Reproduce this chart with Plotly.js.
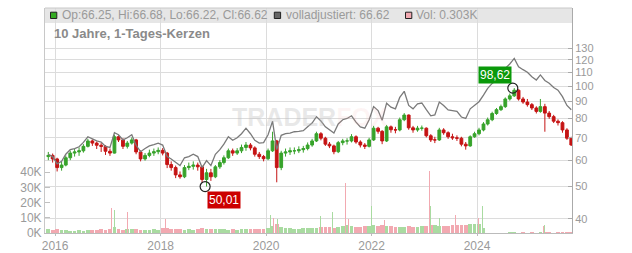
<!DOCTYPE html>
<html>
<head>
<meta charset="utf-8">
<script src="https://cdn.plot.ly/plotly-3.0.1.min.js"></script>
<style>
  html, body { margin: 0; padding: 0; background: #fff; }
  #chart { width: 632px; height: 253px; }
</style>
</head>
<body>
<div id="chart"></div>
<script>
// ---- Data (monthly candles) ----
const firstMonth = '2015-11';
const open = [61.5,62,
  60.5,57,58,61,63,63.5,64,66,68.5,67.5,66.5,66,
  63.8,63,70.5,69,66,67.5,69,63.5,60.5,62,63,63.6,
  64.2,63,58.2,57,54.2,53.5,57,57.5,58,57.3,52.5,55,
  53.5,57.3,59,61,64,63,64,65.5,66.6,65.3,62.5,61.5,
  60.6,64,68.5,57,63,63.5,64,64,64.5,65,66.6,68.5,
  72,69.8,67,66.2,63.6,67.7,68.5,68.5,70.5,68,66.6,66,
  69,74.8,73.2,68.5,75.5,74,73.9,79.3,81.9,75,73.9,74.8,
  74.8,71,69,69,73.9,72.5,70.5,70,69.8,67,66.2,70.5,
  72,73.9,77,79.3,82.8,85,86.8,91.5,93.5,97.2,91.5,89.6,
  88,86,84,86.8,83,81,78.5,77.7,73.9,69.8];
const high = [63.5,62.8,
  61,59.5,62,64,64.8,65.5,67,69.5,69.2,68.2,67.5,66.5,
  65,71.5,71.2,69.8,68.5,70.2,69.5,64.2,63,64.5,65,65.5,
  65.2,63.5,59.5,57.8,55.5,58,59,59.5,59,57.8,56.5,56.5,
  58,60,62,65,65,65.2,66.8,68,67.5,66,63.5,62.2,
  65,73,69,64,65,65.5,65.5,66,66.2,67.8,69.5,73,
  72.8,70.5,68,66.8,68.5,69.5,69.8,71.8,71.2,68.8,67.5,70,
  76,75.5,73.8,76.5,76.2,75.5,80.5,83,82.2,76,76,76.2,
  75.2,71.8,70.5,75,74.8,73.2,72,71.2,70.5,68,71.2,73,
  75,78,80.5,83.8,86,88,92.5,95,98.62,97.8,92.8,91.5,
  89,87,91.5,88.5,84.2,82,79.5,78.5,74.8,70.5];
const low = [60,59,
  55.5,55.8,57.5,60,61.5,61.8,63.2,65.5,66.2,64.8,63.5,62.2,
  61.8,62.8,68,64.8,65,66.8,62.5,59.5,59.8,61.2,61.8,62.5,
  62,56.8,55.8,53,52.8,53,56,56.2,55.8,51.5,50.01,52,
  53,56.5,58.2,60.5,61.8,62.2,63,64,64.2,61.5,60.5,59.5,
  60,63.5,51.5,56,61.5,62.2,62.5,63,63.2,64.2,65.8,68,
  68.8,66.2,65.2,62.5,63,66.5,66.8,67.8,67.2,65.5,64.8,65.5,
  68.5,72,67,68,72.5,72.2,73.2,78.5,74,72.5,73,73.5,
  70.2,68,67.5,68.5,71.5,69.5,69,68.5,66,64.5,65.8,70,
  71.2,73.2,76.2,78.5,82,84.2,86,90.5,92.8,90.5,88.5,86.8,
  84.8,82.8,83.2,73,79.8,77.5,76.2,72.5,69,66.22];
const close = [62,60.5,
  57,58,61,63,63.5,64,66,68.5,67.5,66.5,66,63.8,
  63,70.5,69,66,67.5,69,63.5,60.5,62,63,63.6,64.2,
  63,58.2,57,54.2,53.5,57,57.5,58,57.3,52.5,55,53.5,
  57.3,59,61,64,63,64,65.5,66.6,65.3,62.5,61.5,60.6,
  64,68.5,57,63,63.5,64,64,64.5,65,66.6,68.5,72,
  69.8,67,66.2,63.6,67.7,68.5,68.5,70.5,68,66.6,66,69,
  74.8,73.2,68.5,75.5,74,73.9,79.3,81.9,75,73.9,74.8,74.8,
  71,69,69,73.9,72.5,70.5,70,69.8,67,66.2,70.5,72,
  73.9,77,79.3,82.8,85,86.8,91.5,93.5,97.2,91.5,89.6,88,
  86,84,86.8,83,81,78.5,77.7,73.9,69.8,66.62];
const adjusted = [62.5,61.5,
  58.5,59.5,62.5,64.5,65,65.8,67.8,70.5,69.5,68.5,68,66,
  65.5,72.5,71.5,69,70,71.5,66.5,63.6,65,66.2,66.8,67.5,
  66.6,61.5,60.5,59,57.8,61,61.5,62.5,61.5,57,59.8,57.8,
  62.5,64.5,67,70.5,68.8,70,72,74.8,72,68.8,67.5,67.7,
  71.5,78.5,64.5,71.2,72,72.3,73,73.2,73.5,75.5,77.5,81,
  78.6,75.5,74,72.3,77,79.3,80,81.5,78,75.5,74.8,79.3,
  86.8,84.5,79,88.9,86.5,85.5,92.5,96.5,87.5,85.5,88.5,89,
  85,81.5,82,89.6,87.5,84.9,84.5,84,80.8,80,85.5,87.5,
  89.8,94,98.5,101.9,104.5,106.7,113,116.5,121.1,114.3,112,110,
  106.7,104.3,108,104,102,99,97.2,93,87.5,85];
const volumeK = [2.5,2.2,
  2.8,2.2,1.8,1.6,1.5,2.0,1.6,1.8,2.2,1.7,2.4,2.0,
  2.8,4.0,2.6,2.2,2.8,2.4,2.6,2.2,2.0,2.3,2.6,2.2,
  3.0,3.4,2.6,2.4,2.8,2.2,2.5,2.3,2.4,3.0,2.8,2.6,
  2.4,2.6,2.8,2.3,2.7,2.2,2.4,2.6,2.5,2.8,2.7,2.4,
  3.5,4.5,6.0,4.0,3.0,3.2,2.8,2.6,3.0,3.2,3.6,3.4,
  4.0,4.2,3.8,3.6,4.2,4.4,5.0,4.6,4.2,4.0,4.4,4.6,
  5.2,4.8,5.0,4.4,4.6,4.2,4.0,3.8,4.4,4.0,4.2,4.4,
  4.8,5.4,5.0,4.6,4.4,4.8,5.2,5.0,5.4,5.2,5.6,5.8,
  6.0,3.0,0.3,0.2,0.3,0.2,0.3,0.4,0.6,0.3,0.4,0.3,
  0.4,0.3,0.5,0.8,0.4,0.3,0.5,0.4,0.6,0.5];
// single-day volume spikes
const spikeDates = ['2017-01-27','2017-02-15','2017-05-18','2018-02-01','2020-01-30','2020-02-24','2020-03-18',
  '2021-01-14','2021-04-05','2021-07-06','2021-07-24','2022-01-03','2022-03-29','2023-02-03','2023-02-10',
  '2023-04-14','2023-08-08','2024-01-11','2024-02-06','2025-04-07','2025-04-14'];
const spikeVolK = [16.4,15.3,13.8,9.4,12,10,9,11,13.8,33,9,18,8.5,40.5,18,10,12,10,17.5,4.8,5.4];
const spikeUp = [0,1,0,0,1,0,1,1,1,0,0,1,0,0,1,1,0,0,1,0,1];

const lowDate = '2018-11-05', lowValue = 50.01;
const highDate = '2024-09-05', highValue = 98.62;

const xTickVals = ['2016-01-01','2018-01-01','2020-01-01','2022-01-01','2024-01-01'];
const xTickText = ['2016','2018','2020','2022','2024'];
const priceTicks = [40,50,60,70,80,90,100,110,120,130];
const volTicks = [0,10000,20000,30000,40000];
const volTickText = ['0K','10K','20K','30K','40K'];

const headerOHLC = 'Op:66.25, Hi:66.68, Lo:66.22, Cl:66.62';
const headerAdj = 'volladjustiert: 66.62';
const headerVol = 'Vol: 0.303K';
const chartTitle = '10 Jahre, 1-Tages-Kerzen';

// ---- build ----
const months = [];
{
  let y = +firstMonth.slice(0,4), m = +firstMonth.slice(5,7);
  for (let i = 0; i < close.length; i++) {
    months.push(y + '-' + String(m).padStart(2,'0') + '-15');
    m++; if (m > 12) { m = 1; y++; }
  }
}
const GREEN = '#37a32b', RED = '#c51414', GRAY = '#7a7a7a';
const VGREEN = '#a9dba1', VPINK = '#f2a9b1';
const DAY = 86400000;

const traces = [
  { type:'bar', x: months, y: volumeK.map(v => v*1000), yaxis:'y', xaxis:'x',
    marker:{color: close.map((c,i)=> c >= open[i] ? VGREEN : VPINK), line:{width:0}},
    width: months.map(()=>26*DAY), hoverinfo:'skip' },
  { type:'bar', x: spikeDates, y: spikeVolK.map(v => v*1000), yaxis:'y', xaxis:'x',
    marker:{color: spikeUp.map(u => u ? VGREEN : VPINK), line:{width:0}},
    width: spikeDates.map(()=>7*DAY), hoverinfo:'skip' },
  { type:'scatter', mode:'lines', x: months, y: adjusted, yaxis:'y2', xaxis:'x',
    line:{color:GRAY, width:1.3}, hoverinfo:'skip' },
  { type:'candlestick', x: months, open, high, low, close, yaxis:'y2', xaxis:'x',
    increasing:{line:{color:GREEN, width:1}, fillcolor:GREEN},
    decreasing:{line:{color:RED, width:1}, fillcolor:RED},
    whiskerwidth:0, hoverinfo:'skip' },
  { type:'scatter', mode:'markers', x:[lowDate, highDate], y:[lowValue, highValue], yaxis:'y2', xaxis:'x',
    marker:{symbol:'circle-open', size:10, color:'#222', line:{width:1.2}}, hoverinfo:'skip' }
];

const px = v => (v - 45) / 527;     // paper x helper
const py = v => (233 - v) / 225;    // paper y helper

const layout = {
  width:632, height:253,
  margin:{l:45, r:60, t:8, b:20, pad:0},
  paper_bgcolor:'#ffffff', plot_bgcolor:'rgba(0,0,0,0)',
  showlegend:false, bargap:0, barmode:'overlay', boxgap:0.02,
  font:{family:'Liberation Sans, Arial, sans-serif', size:12, color:'#999'},
  xaxis:{type:'date', range:['2015-10-23','2025-10-20'], tickvals:xTickVals, ticktext:xTickText,
    showgrid:true, gridcolor:'#dcdcdc', gridwidth:1, showline:true, linecolor:'#bbb',
    ticks:'outside', ticklen:2, tickcolor:'#bbb', zeroline:false, fixedrange:true,
    rangeslider:{visible:false}, tickfont:{size:12, color:'#9a9a9a'}},
  yaxis:{range:[0,148000], tickvals:volTicks, ticktext:volTickText, showgrid:false, zeroline:false,
    showline:true, linecolor:'#c8c8c8', ticks:'inside', ticklen:5, tickcolor:'#c0c0c0',
    tickfont:{size:12, color:'#9a9a9a'}, fixedrange:true},
  yaxis2:{overlaying:'y', side:'right', type:'log', range:[Math.log10(36.3), Math.log10(171.4)],
    tickvals:priceTicks, ticktext:priceTicks.map(String), showgrid:true, gridcolor:'#dcdcdc',
    zeroline:false, showline:true, linecolor:'#aaa', ticks:'inside', ticklen:4, tickcolor:'#aaa',
    tickfont:{size:11, color:'#9a9a9a'}, fixedrange:true},
  shapes:[
    {type:'rect', xref:'paper', yref:'paper', x0:0, x1:1, y0:py(23), y1:1, fillcolor:'#e6e6e6',
      line:{width:0}, layer:'below'},
    {type:'line', xref:'paper', yref:'paper', x0:0, x1:1, y0:1, y1:1, line:{color:'#c8c8c8', width:1}},
    {type:'rect', xref:'paper', yref:'paper', x0:px(50.5), x1:px(56.8), y0:py(18.5), y1:py(12.2),
      fillcolor:'#33aa22', line:{color:'#222', width:1}},
    {type:'rect', xref:'paper', yref:'paper', x0:px(274.3), x1:px(280.6), y0:py(18.5), y1:py(12.2),
      fillcolor:'#666', line:{color:'#222', width:1}},
    {type:'rect', xref:'paper', yref:'paper', x0:px(405.5), x1:px(411.8), y0:py(18.5), y1:py(12.2),
      fillcolor:'#f2a9b1', line:{color:'#222', width:1}}
  ],
  annotations:[
    {xref:'paper', yref:'paper', x:px(310), y:py(117), showarrow:false,
      text:'<b>TRADER<span style="color:rgba(245,170,170,0.35)">FOX</span></b>',
      font:{size:25, color:'rgba(190,190,190,0.35)', family:'Liberation Sans, Arial'}},
    {xref:'paper', yref:'paper', x:px(60), y:py(15.5), xanchor:'left', yanchor:'middle', showarrow:false,
      text:headerOHLC, font:{size:12, color:'#9a9a9a'}},
    {xref:'paper', yref:'paper', x:px(283.5), y:py(15.5), xanchor:'left', yanchor:'middle', showarrow:false,
      text:headerAdj, font:{size:12, color:'#9a9a9a'}},
    {xref:'paper', yref:'paper', x:px(414), y:py(15.5), xanchor:'left', yanchor:'middle', showarrow:false,
      text:headerVol, font:{size:12, color:'#9a9a9a'}},
    {xref:'paper', yref:'paper', x:px(52), y:py(33.5), xanchor:'left', yanchor:'middle', showarrow:false,
      text:'<b>' + chartTitle + '</b>', font:{size:13, color:'#8a8a8a'}},
    {xref:'x', yref:'y2', x:lowDate, y:Math.log10(lowValue), xanchor:'left', yanchor:'top', showarrow:false,
      xshift:2, yshift:-4, text:'50,01', bgcolor:'#cc0000', borderpad:1, font:{size:12, color:'#fff'}},
    {xref:'x', yref:'y2', x:highDate, y:Math.log10(highValue), xanchor:'right', yanchor:'bottom', showarrow:false,
      xshift:-1, yshift:4, text:'98,62', bgcolor:'#0a990a', borderpad:1, font:{size:12, color:'#fff'}}
  ]
};

Plotly.newPlot('chart', traces, layout, {staticPlot:true, displayModeBar:false});
</script>
</body>
</html>
